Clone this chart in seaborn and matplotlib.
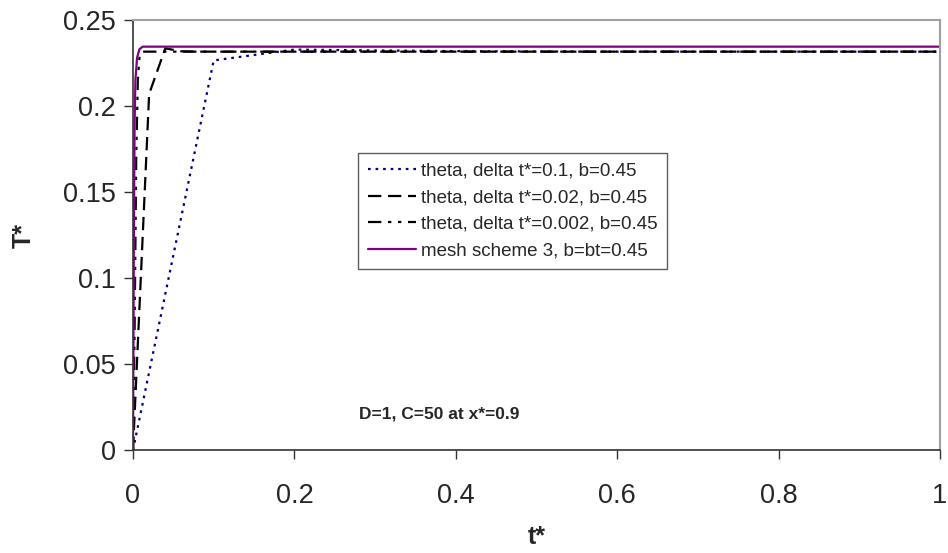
import matplotlib
matplotlib.use("Agg")
import matplotlib.pyplot as plt
import seaborn as sns
import pandas as pd

# theta scheme, delta t* = 0.1
t_dt01 = [0.0, 0.1, 0.2, 0.3, 0.4, 0.5, 0.6, 0.7, 0.8, 0.9, 1.0]
T_dt01 = [0.0, 0.2265, 0.2328, 0.2323, 0.2319, 0.2317, 0.2316, 0.2316, 0.2316, 0.2316, 0.2316]

# theta scheme, delta t* = 0.02
t_dt002 = [0.0, 0.02, 0.04, 0.06, 0.08, 0.1, 1.0]
T_dt002 = [0.0, 0.207, 0.2335, 0.2318, 0.2316, 0.2316, 0.2316]

# theta scheme, delta t* = 0.002
t_dt0002 = [0.0, 0.002, 0.004, 0.006, 0.008, 0.01, 0.012, 1.0]
T_dt0002 = [0.0, 0.07, 0.17, 0.215, 0.228, 0.231, 0.2316, 0.2316]

# mesh scheme 3
t_mesh = [0.0, 0.001, 0.002, 0.003, 0.005, 0.008, 0.012, 1.0]
T_mesh = [0.0, 0.12, 0.19, 0.215, 0.228, 0.233, 0.2345, 0.2345]

labels = ["theta, delta t*=0.1, b=0.45",
          "theta, delta t*=0.02, b=0.45",
          "theta, delta t*=0.002, b=0.45",
          "mesh scheme 3, b=bt=0.45"]

sns.set_style("white")
plt.rcParams['font.family'] = ['Liberation Sans', 'DejaVu Sans']

fig = plt.figure(figsize=(9.48, 5.53), dpi=100)
ax = fig.add_axes([133 / 948, 1 - 450 / 553, 807 / 948, 430 / 553])

series = [
    (t_dt01, T_dt01, labels[0], "#000080", (0, (1.2, 2.2)), 1.6),
    (t_dt002, T_dt002, labels[1], "black", (0, (6, 3)), 1.6),
    (t_dt0002, T_dt0002, labels[2], "black", (0, (6, 3, 1.5, 3, 1.5, 3)), 1.6),
    (t_mesh, T_mesh, labels[3], "#800080", "-", 1.6),
]
for t, T, lab, col, ls, lw in series:
    df = pd.DataFrame({"t": t, "T": T})
    sns.lineplot(data=df, x="t", y="T", ax=ax, color=col, linestyle=ls,
                 linewidth=lw, label=lab, sort=False)

ax.set_xlim(0, 1)
ax.set_ylim(0, 0.25)
ax.set_xticks([0, 0.2, 0.4, 0.6, 0.8, 1.0])
ax.set_xticklabels(["0", "0.2", "0.4", "0.6", "0.8", "1"])
ax.set_yticks([0, 0.05, 0.1, 0.15, 0.2, 0.25])
ax.set_yticklabels(["0", "0.05", "0.1", "0.15", "0.2", "0.25"])
ax.tick_params(axis="both", direction="out", length=6.5, width=1, labelsize=19.5,
               color="#333333", left=True, bottom=True)
ax.tick_params(axis="x", pad=17)
ax.tick_params(axis="y", pad=6)

for side in ["left", "bottom"]:
    ax.spines[side].set_color("#333333")
    ax.spines[side].set_linewidth(1.2)
for side in ["top", "right"]:
    ax.spines[side].set_color("#a0a0a0")
    ax.spines[side].set_linewidth(1.5)

ax.set_xlabel("t*", fontsize=18, fontweight="bold")
ax.set_ylabel("T*", fontsize=18, fontweight="bold")
ax.xaxis.set_label_coords(0.5, (450 - 537) / 430)
ax.xaxis.label.set_va("center")
ax.yaxis.set_label_coords((24 - 133) / 807, 0.5)
ax.yaxis.label.set_va("center")

leg = ax.legend(loc="upper left", bbox_to_anchor=(0.279, 0.69), fontsize=13.5,
                frameon=True, fancybox=False, edgecolor="#333333",
                handlelength=2.6, handletextpad=0.25, borderpad=0.5,
                labelspacing=0.5, borderaxespad=0)
leg.get_frame().set_linewidth(1.0)

ax.text(0.38, 0.084, "D=1, C=50 at x*=0.9", transform=ax.transAxes,
        fontsize=12.5, fontweight="bold", ha="center", va="center")

fig.savefig("out.png", dpi=100, facecolor="white")
